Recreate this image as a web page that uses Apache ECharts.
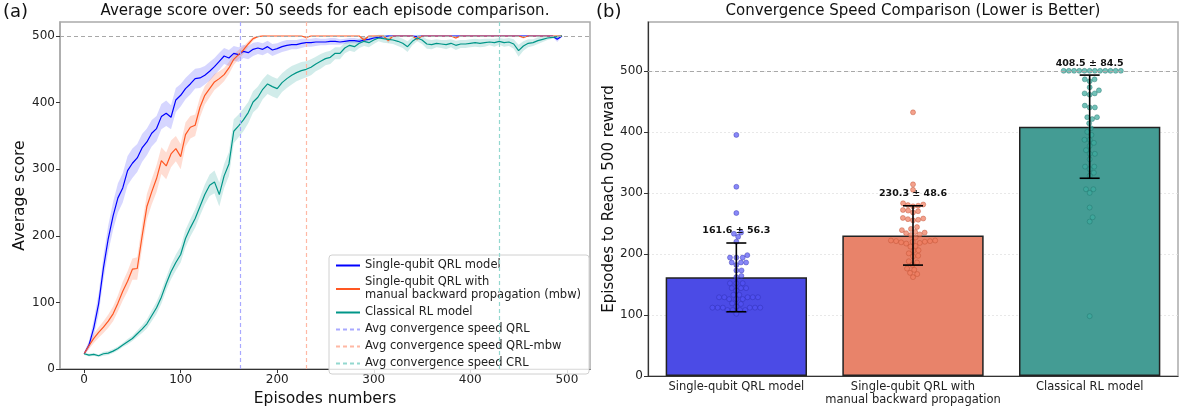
<!DOCTYPE html>
<html>
<head>
<meta charset="utf-8">
<script src="https://cdn.jsdelivr.net/npm/echarts@6/dist/echarts.min.js"></script>
<style>
  html, body { margin: 0; padding: 0; background: #fff; }
  #main { width: 1194px; height: 412px; }
</style>
</head>
<body>
<div id="main"></div>
<script>
// ==============================================================
// data, left panel: mean score every 5 episodes (0..495) + band half width
// ==============================================================
var episodeStep = 5;

var qrlMean = [23, 36, 62, 98, 152, 196, 230, 257, 272, 298,
  309, 317, 332, 341, 354, 361, 379, 384, 378, 404,
  411, 421, 428, 436, 437, 441, 447, 454, 462, 470,
  467, 474, 472, 477, 475, 480, 482, 480, 484, 479,
  481, 484, 486, 487, 487, 489, 490, 490, 491, 491,
  491, 492, 492, 491, 492, 493, 493, 492, 494, 495,
  497, 498, 499, 500, 500, 500, 500, 500, 500, 499,
  500, 500, 500, 500, 500, 500, 500, 500, 500, 500,
  500, 500, 500, 500, 500, 500, 500, 500, 500, 500,
  500, 500, 500, 500, 500, 500, 500, 500, 495, 500];
var qrlBand = [2, 6, 12, 16, 18, 20, 21, 22, 22, 22,
  22, 21, 21, 20, 20, 19, 19, 19, 18, 18,
  17, 16, 16, 15, 15, 14, 14, 13, 13, 12,
  12, 11, 11, 10, 10, 10, 9, 9, 9, 9,
  8, 8, 8, 7, 7, 7, 6, 6, 6, 5,
  5, 5, 5, 4, 4, 4, 4, 4, 3, 3,
  2, 2, 1, 1, 1, 1, 1, 1, 1, 2,
  1, 1, 1, 1, 1, 1, 1, 1, 1, 1,
  1, 1, 1, 1, 1, 1, 1, 1, 1, 1,
  1, 1, 1, 1, 1, 1, 1, 1, 4, 1];

var mbwMean = [23, 35, 46, 55, 63, 72, 83, 99, 117, 132,
  150, 151, 199, 244, 266, 286, 313, 305, 323, 331,
  319, 352, 363, 366, 393, 411, 421, 431, 436, 442,
  452, 465, 472, 479, 488, 496, 499, 500, 500, 500,
  500, 500, 500, 500, 500, 500, 498, 500, 500, 500,
  500, 500, 500, 500, 500, 500, 500, 500, 494, 500,
  500, 500, 500, 493, 500, 500, 500, 500, 500, 495,
  500, 500, 500, 500, 500, 500, 500, 497, 500, 500,
  500, 500, 500, 500, 500, 500, 500, 500, 500, 500,
  500, 498, 500, 500, 500, 500, 500, 500, 500, 500];
var mbwBand = [2, 5, 7, 8, 9, 10, 11, 12, 14, 15,
  16, 17, 18, 19, 19, 20, 20, 20, 20, 19,
  19, 18, 17, 16, 15, 14, 13, 12, 11, 10,
  9, 8, 7, 6, 4, 3, 1, 1, 0, 0,
  0, 0, 0, 0, 0, 0, 2, 0, 0, 0,
  0, 0, 0, 0, 0, 0, 0, 0, 4, 0,
  0, 0, 0, 4, 0, 0, 0, 0, 0, 3,
  0, 0, 0, 0, 0, 0, 0, 2, 0, 0,
  0, 0, 0, 0, 0, 0, 0, 0, 0, 0,
  0, 2, 0, 0, 0, 0, 0, 0, 0, 0];

var crlMean = [23, 21, 22, 20, 23, 24, 27, 31, 36, 41,
  46, 53, 60, 68, 80, 92, 108, 128, 146, 160,
  172, 196, 212, 226, 244, 262, 276, 281, 262, 290,
  308, 357, 365, 374, 385, 401, 408, 420, 428, 424,
  421, 430, 436, 441, 445, 448, 450, 453, 458, 462,
  466, 468, 474, 474, 482, 486, 484, 489, 492, 490,
  494, 497, 496, 495, 494, 492, 489, 484, 492, 497,
  494, 488, 487, 489, 488, 487, 489, 486, 488, 488,
  489, 490, 489, 490, 491, 490, 492, 490, 491, 488,
  478, 485, 489, 490, 493, 495, 497, 498, 499, 500];
var crlBand = [2, 2, 2, 2, 3, 3, 3, 3, 3, 4,
  4, 5, 6, 7, 8, 9, 10, 10, 11, 12,
  12, 13, 13, 14, 14, 15, 16, 17, 18, 18,
  18, 18, 17, 17, 16, 16, 16, 15, 15, 15,
  15, 14, 14, 14, 13, 13, 12, 12, 11, 11,
  10, 10, 9, 9, 8, 8, 8, 7, 7, 7,
  6, 5, 6, 6, 6, 7, 7, 8, 6, 5,
  6, 7, 7, 6, 6, 7, 6, 7, 6, 6,
  6, 6, 6, 6, 5, 6, 5, 6, 6, 7,
  9, 7, 6, 5, 5, 4, 3, 2, 2, 1];

// average convergence episode lines
var convLines = [161.6, 230.3, 430];

// ==============================================================
// data, right panel
// ==============================================================
var categories = ['Single-qubit QRL model', 'Single-qubit QRL with\nmanual backward propagation', 'Classical RL model'];
var convMean = [161.6, 230.3, 408.5];
var convStd = [56.3, 48.6, 84.5];

var qrlSeeds = [395, 310, 267, 235, 233, 228, 220, 198, 194, 194,
  194, 186, 186, 186, 182, 173, 173, 164, 162, 152,
  152, 152, 144, 144, 144, 140, 133, 133, 129, 129,
  129, 129, 129, 126, 126, 126, 119, 114, 112, 112,
  112, 112, 112, 112, 108, 108, 108, 108, 102, 118];
var mbwSeeds = [432, 314, 305, 283, 281, 280, 279, 278, 272, 271,
  270, 268, 259, 258, 257, 256, 255, 244, 241, 239,
  236, 235, 234, 232, 231, 227, 222, 222, 221, 221,
  220, 220, 219, 218, 217, 213, 212, 206, 205, 201,
  197, 196, 188, 186, 182, 176, 174, 169, 167, 162];
var crlSeeds = [500, 500, 500, 500, 500, 500, 500, 500, 500, 500,
  500, 500, 486, 486, 483, 473, 468, 463, 463, 461,
  443, 440, 440, 424, 424, 421, 414, 406, 400, 395,
  387, 387, 382, 377, 370, 364, 364, 355, 343, 343,
  339, 333, 328, 306, 306, 300, 276, 260, 253, 98];

var yTicks = [0, 100, 200, 300, 400, 500];
var xTicks = [0, 100, 200, 300, 400, 500];

// ==============================================================
var font = 'DejaVu Sans';
var cBlue = '#0000ff', cOrange = '#ff5722', cTeal = '#009688';

function pairs(arr) {
  return arr.map(function (v, i) { return [i * episodeStep, v]; });
}

// shaded band drawn as one polygon through the axis scale
function bandSeries(mean, band, color) {
  return {
    type: 'custom',
    xAxisIndex: 0, yAxisIndex: 0,
    silent: true,
    z: 1,
    data: [[0, mean[0]]],
    renderItem: function (params, api) {
      var pts = [];
      for (var i = 0; i < mean.length; i++) pts.push(api.coord([i * episodeStep, mean[i] + band[i]]));
      for (var j = mean.length - 1; j >= 0; j--) pts.push(api.coord([j * episodeStep, mean[j] - band[j]]));
      return { type: 'polygon', shape: { points: pts }, style: { fill: color } };
    }
  };
}

function vline(name, x, color) {
  return {
    name: name, type: 'line', xAxisIndex: 0, yAxisIndex: 0,
    data: [], symbol: 'none',
    lineStyle: { color: color, width: 1.2, type: [4, 3] },
    itemStyle: { color: color },
    markLine: {
      silent: true, symbol: 'none', label: { show: false },
      lineStyle: { color: color, width: 1.2, type: [4, 3] },
      data: [{ xAxis: x }]
    }
  };
}

// simple beeswarm: offsets computed in pixel space
function swarm(values, center) {
  var pxX = 530 / 3, pxY = 354 / 580, d = 5.2;
  var placed = [];
  values.slice().sort(function (a, b) { return a - b; }).forEach(function (v) {
    var y = v * pxY;
    var cands = [0];
    placed.forEach(function (p) {
      var dy = Math.abs(p.y - y);
      if (dy < d) {
        var dx = Math.sqrt(d * d - dy * dy);
        cands.push(p.x + dx, p.x - dx);
      }
    });
    cands.sort(function (a, b) { return Math.abs(a) - Math.abs(b); });
    var x = 0;
    for (var k = 0; k < cands.length; k++) {
      var c = cands[k];
      var ok = placed.every(function (p) { return (p.x - c) * (p.x - c) + (p.y - y) * (p.y - y) >= d * d - 0.01; });
      if (ok) { x = c; break; }
    }
    placed.push({ x: x, y: y, v: v });
  });
  return placed.map(function (p) { return [center + p.x / pxX, p.v]; });
}

var dom = document.getElementById('main');
var myChart = echarts.init(dom);

var tickStyle = { color: '#222', fontFamily: font, fontSize: 12 };

var option = {
  animation: false,
  textStyle: { fontFamily: font },
  graphic: [
    { type: 'text', x: 3, y: 3, style: { text: '(a)', font: '18px ' + font, fill: '#111' } },
    { type: 'text', x: 325, y: 4, style: { text: 'Average score over: 50 seeds for each episode comparison.', font: '15px ' + font, fill: '#111', textAlign: 'center' } },
    { type: 'text', x: 596, y: 3, style: { text: '(b)', font: '18px ' + font, fill: '#111' } },
    { type: 'text', x: 913, y: 4, style: { text: 'Convergence Speed Comparison (Lower is Better)', font: '15px ' + font, fill: '#111', textAlign: 'center' } }
  ],
  legend: {
    left: 329, top: 255,
    orient: 'vertical',
    itemWidth: 24, itemHeight: 10, itemGap: 4,
    padding: [4, 8, 4, 6],
    backgroundColor: 'rgba(255,255,255,0.85)',
    borderColor: '#d0d0d0', borderWidth: 1, borderRadius: 3,
    itemStyle: { color: 'transparent', borderColor: 'transparent', borderWidth: 0, opacity: 0 },
    textStyle: { fontFamily: font, fontSize: 11.5, color: '#222', lineHeight: 13 },
    data: ['Single-qubit QRL model', 'Single-qubit QRL with\nmanual backward propagation (mbw)', 'Classical RL model',
      'Avg convergence speed QRL', 'Avg convergence speed QRL-mbw', 'Avg convergence speed CRL']
  },
  grid: [
    { left: 60, right: 604, top: 22, bottom: 36, show: true, borderColor: '#aaa', borderWidth: 1.5, backgroundColor: 'transparent' },
    { left: 648, right: 16, top: 22, bottom: 36, show: true, borderColor: '#aaa', borderWidth: 1.5, backgroundColor: 'transparent' }
  ],
  xAxis: [
    {
      type: 'value', gridIndex: 0, min: -25, max: 524,
      name: 'Episodes numbers', nameLocation: 'middle', nameGap: 19,
      nameTextStyle: { fontFamily: font, fontSize: 15.5, color: '#111' },
      axisLine: { onZero: false, lineStyle: { color: '#333', width: 1.2 } },
      axisTick: { customValues: xTicks, length: 4, lineStyle: { color: '#333' } },
      axisLabel: Object.assign({ customValues: xTicks, margin: 5 }, tickStyle),
      splitLine: { show: false }
    },
    {
      type: 'category', gridIndex: 1, data: categories,
      axisLine: { onZero: false, lineStyle: { color: '#333', width: 1.2 } },
      axisTick: { alignWithLabel: true, length: 4, lineStyle: { color: '#333' } },
      axisLabel: { fontFamily: font, fontSize: 11.5, color: '#222', lineHeight: 13, margin: 5, interval: 0 }
    },
    { type: 'value', gridIndex: 1, min: -0.5, max: 2.5, show: false, axisLine: { onZero: false } }
  ],
  yAxis: [
    {
      type: 'value', gridIndex: 0, min: 0, max: 521,
      name: 'Average score', nameLocation: 'middle', nameGap: 26,
      nameTextStyle: { fontFamily: font, fontSize: 15.5, color: '#111' },
      axisLine: { show: true, onZero: false, lineStyle: { color: '#aaa', width: 1.5 } },
      axisTick: { show: true, customValues: yTicks, length: 4, lineStyle: { color: '#333' } },
      axisLabel: Object.assign({ customValues: yTicks, margin: 5 }, tickStyle),
      splitLine: { show: false }
    },
    {
      type: 'value', gridIndex: 1, min: 0, max: 580,
      name: 'Episodes to Reach 500 reward', nameLocation: 'middle', nameGap: 27,
      nameTextStyle: { fontFamily: font, fontSize: 15, color: '#111' },
      axisLine: { show: true, onZero: false, lineStyle: { color: '#333', width: 1.2 } },
      axisTick: { show: true, customValues: yTicks, length: 4, lineStyle: { color: '#333' } },
      axisLabel: Object.assign({ customValues: yTicks, margin: 5 }, tickStyle),
      splitLine: { show: true, lineStyle: { color: '#e2e2e2', width: 0.8, type: [2, 2] } }
    }
  ],
  series: [
    bandSeries(qrlMean, qrlBand, 'rgba(0,0,255,0.16)'),
    bandSeries(mbwMean, mbwBand, 'rgba(255,87,34,0.2)'),
    bandSeries(crlMean, crlBand, 'rgba(0,150,136,0.18)'),
    {
      name: 'Single-qubit QRL model', type: 'line', xAxisIndex: 0, yAxisIndex: 0,
      data: pairs(qrlMean), symbol: 'none', z: 3,
      lineStyle: { color: cBlue, width: 1.2 }, itemStyle: { color: cBlue },
      markLine: {
        silent: true, symbol: 'none', label: { show: false },
        lineStyle: { color: '#a8a8a8', width: 1.1, type: [4, 3] },
        data: [{ yAxis: 500 }]
      }
    },
    {
      name: 'Single-qubit QRL with\nmanual backward propagation (mbw)', type: 'line', xAxisIndex: 0, yAxisIndex: 0,
      data: pairs(mbwMean), symbol: 'none', z: 3,
      lineStyle: { color: cOrange, width: 1.2 }, itemStyle: { color: cOrange }
    },
    {
      name: 'Classical RL model', type: 'line', xAxisIndex: 0, yAxisIndex: 0,
      data: pairs(crlMean), symbol: 'none', z: 3,
      lineStyle: { color: cTeal, width: 1.2 }, itemStyle: { color: cTeal }
    },
    vline('Avg convergence speed QRL', convLines[0], '#a9a9ff'),
    vline('Avg convergence speed QRL-mbw', convLines[1], '#ffb8a4'),
    vline('Avg convergence speed CRL', convLines[2], '#93d8cf'),

    // right panel
    {
      type: 'bar', xAxisIndex: 1, yAxisIndex: 1, barWidth: '80%', z: 2,
      data: convMean.map(function (v, i) {
        return { value: v, itemStyle: { color: ['#4b4be6', '#e8836a', '#449c94'][i] } };
      }),
      itemStyle: { borderColor: '#222', borderWidth: 1.5 },
      markLine: {
        silent: true, symbol: 'none', label: { show: false },
        lineStyle: { color: '#a8a8a8', width: 1.1, type: [4, 3] },
        data: [{ yAxis: 500 }]
      }
    },
    {
      type: 'scatter', xAxisIndex: 2, yAxisIndex: 1, z: 4, symbolSize: 5,
      data: swarm(qrlSeeds, 0),
      itemStyle: { color: 'rgba(80,80,245,0.85)', borderColor: '#2a2aa8', borderWidth: 0.5 }
    },
    {
      type: 'scatter', xAxisIndex: 2, yAxisIndex: 1, z: 4, symbolSize: 5,
      data: swarm(mbwSeeds, 1),
      itemStyle: { color: 'rgba(240,125,95,0.9)', borderColor: '#b8482a', borderWidth: 0.5 }
    },
    {
      type: 'scatter', xAxisIndex: 2, yAxisIndex: 1, z: 4, symbolSize: 5,
      data: swarm(crlSeeds, 2),
      itemStyle: { color: 'rgba(60,170,158,0.9)', borderColor: '#1d6f66', borderWidth: 0.5 }
    },
    {
      type: 'custom', xAxisIndex: 1, yAxisIndex: 1, z: 5, silent: true,
      data: convMean.map(function (m, i) { return [i, m - convStd[i], m + convStd[i], m, convStd[i]]; }),
      renderItem: function (params, api) {
        var lo = api.coord([api.value(0), api.value(1)]);
        var hi = api.coord([api.value(0), api.value(2)]);
        var cap = 10;
        var st = { stroke: '#000', lineWidth: 1.6 };
        return {
          type: 'group',
          children: [
            { type: 'line', shape: { x1: lo[0], y1: lo[1], x2: hi[0], y2: hi[1] }, style: st },
            { type: 'line', shape: { x1: lo[0] - cap, y1: lo[1], x2: lo[0] + cap, y2: lo[1] }, style: st },
            { type: 'line', shape: { x1: hi[0] - cap, y1: hi[1], x2: hi[0] + cap, y2: hi[1] }, style: st },
            {
              type: 'text', x: hi[0], y: hi[1] - 12,
              style: {
                text: api.value(3).toFixed(1) + ' ± ' + api.value(4).toFixed(1),
                font: 'bold 9.5px ' + font, fill: '#111', textAlign: 'center', textVerticalAlign: 'middle'
              }
            }
          ]
        };
      }
    }
  ]
};

if (option && typeof option === 'object') {
  myChart.setOption(option, true);
}
</script>
</body>
</html>
